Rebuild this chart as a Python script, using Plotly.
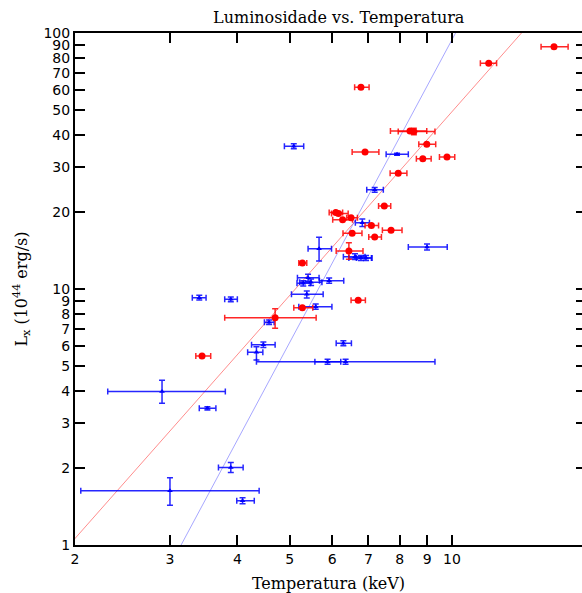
import numpy as np
import plotly.graph_objects as go

# ---------------- data ----------------
# red sample: temperature (keV), luminosity (1e44 erg/s) and error-bar bounds
red_T    = [15.46, 11.70, 6.78, 8.36, 8.50, 8.98, 6.90, 8.83, 9.79, 7.95, 7.49, 6.09,
            6.16, 6.50, 6.27, 7.09, 7.71, 7.19, 6.53, 6.44, 5.28, 6.70, 5.28, 4.70, 3.44]
red_L    = [88.4, 76.1, 61.4, 41.4, 41.2, 36.8, 34.3, 32.3, 32.8, 28.3, 21.1, 19.9,
            19.7, 19.0, 18.66, 17.7, 16.96, 15.97, 16.5, 14.08, 12.64, 9.03, 8.45, 7.73, 5.47]
red_T_lo = [14.63, 11.29, 6.60, 7.69, 7.95, 8.68, 6.53, 8.59, 9.48, 7.68, 7.31, 5.92,
            5.98, 6.38, 6.01, 6.90, 7.43, 7.01, 6.28, 6.10, 5.20, 6.50, 5.09, 3.79, 3.35]
red_T_hi = [16.42, 12.10, 7.02, 8.98, 9.30, 9.33, 7.32, 9.15, 10.12, 8.25, 7.70, 6.27,
            6.42, 6.68, 6.54, 7.31, 8.08, 7.40, 6.81, 6.84, 5.38, 6.91, 5.52, 5.60, 3.57]
red_L_lo = [88.4, 76.1, 61.4, 41.4, 40.0, 36.8, 34.3, 32.3, 32.8, 28.3, 21.1, 19.9,
            19.7, 19.0, 18.66, 17.7, 16.96, 15.97, 16.5, 13.06, 12.64, 9.03, 8.45, 7.02, 5.47]
red_L_hi = [88.4, 76.1, 61.4, 41.4, 42.5, 36.8, 34.3, 32.3, 32.8, 28.3, 21.1, 19.9,
            19.7, 19.0, 18.66, 17.7, 16.96, 15.97, 16.5, 15.17, 12.64, 9.03, 8.45, 8.38, 5.47]

# blue sample
blue_T    = [5.09, 7.91, 7.19, 6.82, 5.67, 8.99, 6.61, 6.78, 6.93, 5.41, 5.48, 5.30, 5.92,
             5.38, 5.59, 3.40, 3.89, 4.58, 4.47, 6.29, 4.34, 5.88, 6.35, 2.90, 3.52, 3.89,
             3.00, 4.09]
blue_L    = [36.1, 33.6, 24.4, 18.15, 14.37, 14.59, 13.38, 13.23, 13.23, 11.07, 10.63, 10.53,
             10.78, 9.53, 8.53, 9.25, 9.11, 7.41, 6.06, 6.14, 5.66, 5.20, 5.20, 3.98, 3.42,
             2.01, 1.63, 1.49]
blue_T_lo = [4.89, 7.55, 6.95, 6.62, 5.41, 8.30, 6.29, 6.44, 6.65, 5.17, 5.22, 5.16, 5.68,
             5.04, 5.20, 3.30, 3.79, 4.49, 4.25, 6.10, 4.18, 5.57, 4.34, 2.30, 3.40, 3.69,
             2.05, 3.99]
blue_T_hi = [5.31, 8.30, 7.46, 7.03, 5.98, 9.80, 6.90, 7.11, 7.09, 5.67, 5.74, 5.46, 6.30,
             5.77, 5.99, 3.50, 4.00, 4.68, 4.70, 6.51, 4.46, 6.22, 9.30, 3.80, 3.65, 4.10,
             4.39, 4.30]
blue_L_lo = [35.3, 33.3, 23.9, 17.55, 12.86, 14.19, 13.03, 12.93, 12.93, 10.72, 10.33, 10.28,
             10.53, 9.23, 8.33, 9.05, 8.91, 7.26, 5.91, 6.0, 5.28, 5.08, 5.08, 3.58, 3.37,
             1.92, 1.43, 1.45]
blue_L_hi = [36.9, 33.9, 24.9, 18.75, 15.92, 14.99, 13.73, 13.53, 13.53, 11.42, 10.93, 10.78,
             11.03, 9.83, 8.73, 9.45, 9.31, 7.56, 6.21, 6.28, 5.95, 5.32, 5.32, 4.40, 3.47,
             2.10, 1.83, 1.53]

# power-law fits  L = A * T^b
red_fit  = (0.203, 2.385)
blue_fit = (0.01106, 3.93)

x_ticks = [2, 3, 4, 5, 6, 7, 8, 9, 10]
y_ticks = [1, 2, 3, 4, 5, 6, 7, 8, 9, 10, 20, 30, 40, 50, 60, 70, 80, 90, 100]

# ---------------- figure ----------------
def minus(v, lo):
    return [a - b for a, b in zip(v, lo)]

def plus(v, hi):
    return [b - a for a, b in zip(v, hi)]

fig = go.Figure()

T_line = np.geomspace(1.9, 20, 300)
fig.add_trace(go.Scatter(x=T_line, y=red_fit[0] * T_line ** red_fit[1], mode="lines",
                         line=dict(color="rgba(255,0,0,0.45)", width=1), hoverinfo="skip"))
fig.add_trace(go.Scatter(x=T_line, y=blue_fit[0] * T_line ** blue_fit[1], mode="lines",
                         line=dict(color="rgba(80,80,255,0.5)", width=1), hoverinfo="skip"))

fig.add_trace(go.Scatter(
    x=blue_T, y=blue_L, mode="markers",
    marker=dict(color="#0000ff", size=5, symbol="triangle-up"),
    error_x=dict(type="data", symmetric=False, array=plus(blue_T, blue_T_hi),
                 arrayminus=minus(blue_T, blue_T_lo), color="rgba(0,0,255,0.85)",
                 thickness=1.5, width=3),
    error_y=dict(type="data", symmetric=False, array=plus(blue_L, blue_L_hi),
                 arrayminus=minus(blue_L, blue_L_lo), color="rgba(0,0,255,0.85)",
                 thickness=1.5, width=3),
))

fig.add_trace(go.Scatter(
    x=red_T, y=red_L, mode="markers",
    marker=dict(color="#ff0000", size=7, symbol="circle"),
    error_x=dict(type="data", symmetric=False, array=plus(red_T, red_T_hi),
                 arrayminus=minus(red_T, red_T_lo), color="rgba(255,0,0,0.85)",
                 thickness=1.5, width=3),
    error_y=dict(type="data", symmetric=False, array=plus(red_L, red_L_hi),
                 arrayminus=minus(red_L, red_L_lo), color="rgba(255,0,0,0.85)",
                 thickness=1.5, width=3),
))

# invisible trace on a second y-axis only to draw the right-hand ticks
fig.add_trace(go.Scatter(x=[2], y=[1], yaxis="y2", mode="markers",
                         marker=dict(opacity=0), hoverinfo="skip"))

tick_font = dict(family="DejaVu Sans", size=14, color="black")
title_font = dict(family="DejaVu Serif", size=16, color="black")

fig.update_layout(
    width=582, height=593,
    margin=dict(l=75, r=0, t=33, b=48),
    paper_bgcolor="white", plot_bgcolor="white",
    showlegend=False,
    title=dict(text="Luminosidade vs. Temperatura", font=title_font,
               x=0.582, xanchor="center", y=1 - 17 / 593, yanchor="middle"),
    xaxis=dict(type="log", range=[np.log10(2), np.log10(2) + 507 / 539.3],
               tickvals=x_ticks, ticktext=[str(v) for v in x_ticks],
               ticks="inside", ticklen=10, tickwidth=1.5, tickcolor="black",
               showline=True, linewidth=2, linecolor="black", mirror="ticks",
               showgrid=False, zeroline=False, tickfont=tick_font,
               title=dict(text="Temperatura (keV)", font=title_font, standoff=14)),
    yaxis=dict(type="log", range=[0, 2],
               tickvals=y_ticks, ticktext=[str(v) for v in y_ticks],
               ticks="inside", ticklen=10, tickwidth=1.5, tickcolor="black",
               showline=True, linewidth=2, linecolor="black", mirror=False,
               showgrid=False, zeroline=False, tickfont=tick_font,
               title=dict(text="L<sub>x</sub> (10<sup>44</sup> erg/s)", font=title_font,
                          standoff=12)),
    yaxis2=dict(type="log", range=[0, 2], overlaying="y", side="right",
                tickvals=y_ticks, ticks="inside", ticklen=6, tickwidth=1.5,
                tickcolor="black", showticklabels=False, showline=False,
                showgrid=False, zeroline=False),
)

fig.write_html("out.html")
